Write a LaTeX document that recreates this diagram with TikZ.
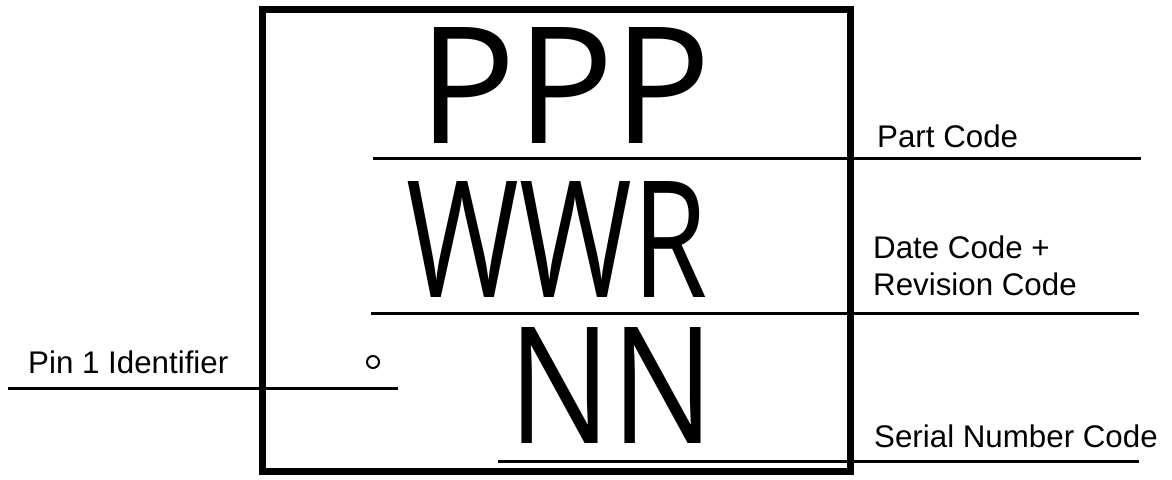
\documentclass[tikz,border=0pt]{standalone}
\usepackage{fontspec}
\setmainfont{Liberation Sans}
\newfontfamily\bigfont{Open Sans}
\usepackage{graphicx}
\begin{document}
\begin{tikzpicture}[x=1pt,y=-1pt,
  lbl/.style={inner sep=0pt,anchor=base west,font=\fontsize{31.3}{37}\selectfont},
  big/.style={inner sep=0pt,anchor=base east,font=\bigfont\fontsize{162.5}{162.5}\selectfont},
  lead/.style={line width=3pt},
  frame/.style={line width=7pt}]
\useasboundingbox (0,0) rectangle (1172,479);
% package outline
\node[draw,frame,inner sep=0pt,outer sep=0pt,minimum width=587.5pt,minimum height=462pt,anchor=north west] (box) at (262.5,9.5) {};
% big marking text
\node[big] (ppp) at (712,143) {PPP};
\node[big] (wwr) at (708,297) {\scalebox{0.75}[1]{WWR}};
\node[big] (nn) at (715,443) {\scalebox{0.84}[1]{NN}};
% pin 1 mark
\node[draw,circle,line width=2pt,minimum size=12pt,inner sep=0pt] (pin) at (373,362) {};
% labels
\node[lbl] (part) at (877,147) {Part Code};
\node[lbl] (date) at (873,258) {Date Code +};
\node[lbl] (rev) at (873,295) {Revision Code};
\node[lbl] (ser) at (874,447) {Serial Number Code};
\node[lbl] (pinl) at (28,373) {Pin 1 Identifier};
% leader lines
\coordinate (a1) at (373,158); \coordinate (a2) at (1141,158);
\coordinate (b1) at (371,313.5); \coordinate (b2) at (1139,313.5);
\coordinate (c1) at (8,388); \coordinate (c2) at (398,388);
\coordinate (d1) at (498,461); \coordinate (d2) at (1139,461);
\draw[lead] (a1) -- (a2);
\draw[lead] (b1) -- (b2);
\draw[lead] (c1) -- (c2);
\draw[lead] (d1) -- (d2);
\end{tikzpicture}
\end{document}
